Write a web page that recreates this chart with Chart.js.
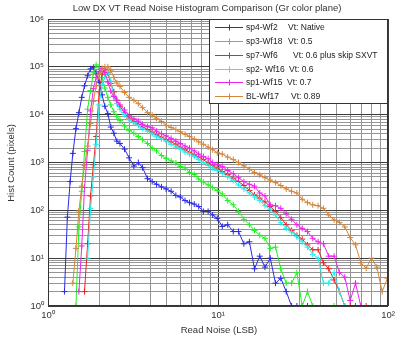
<!DOCTYPE html>
<html>
<head>
<meta charset="utf-8">
<script src="https://cdn.jsdelivr.net/npm/chart.js@4.4.1/dist/chart.umd.min.js"></script>
<style>
html,body{margin:0;padding:0;background:#fff;}
canvas{display:block;}
</style>
</head>
<body>
<canvas id="c" width="400" height="338"></canvas>
<script>
// Read noise bins (LSB)
const readNoise = [1.20,1.25,1.30,1.35,1.40,1.46,1.52,1.58,1.64,1.71,1.78,1.85,1.92,2.00,2.08,2.16,2.25,2.34,2.44,2.54,
  2.65,2.82,3.0,3.2,3.4,3.6,3.85,4.1,4.35,4.65,4.95,5.3,5.65,6.0,6.4,6.8,7.25,7.7,8.2,8.75,9.3,9.9,
  10.6,11.4,12.3,13.2,14.2,15.3,16.4,17.6,18.9,20.3,21.8,23.4,25.2,27.1,29.1,31.3,33.6,36.1,38.8,41.7,
  44.8,48.2,51.8,55.7,59.9,64.4,69.2,74.4,80.0,86.0,92.4,99.3];

const sp4Wf2 = [null,2,72,400,1550,5100,11000,23000,40000,65000,91000,98000,74000,47000,26000,15000,10500,5500,4100,2800,
  2500,1900,1250,840,1000,780,460,400,350,310,280,250,205,190,160,145,135,120,95,95,80,68,
  46,50,36,36,20,22,6,11,6.5,10,3,3.8,2,1,1,1,1,null,null,null,
  null,null,null,null,null,null,null,null,null,null,null,null];

const sp3Wf18 = [null,null,null,null,null,1,45,250,1700,13000,32000,75000,110000,95000,60000,36000,23000,16000,11500,9200,
  7500,5800,4700,4100,3500,3000,2500,2000,1750,1400,1220,1080,980,830,770,620,560,450,390,340,300,260,
  220,160,130,95,65,50,38,30,26,16,17,6,3,3,5,1,2,1,null,null,
  null,1,null,null,null,null,null,null,null,null,null,null];

const sp7Wf6 = [null,null,null,null,null,null,null,null,2,20,200,900,3500,30000,70000,90000,75000,45000,30000,20000,
  15000,11000,8500,7200,6300,5500,4900,4300,3800,3400,3000,2700,2400,2100,1850,1650,1450,1300,1150,980,860,760,
  650,560,470,400,330,260,210,180,150,120,95,70,50,38,30,25,19,15,15,8,
  6,3.5,2,1,1,1,null,1,null,null,null,null];

const sp2Wf16 = [null,null,null,null,null,null,null,null,null,10,110,500,2400,16000,42000,61000,80000,50000,25000,17000,
  13000,10000,7800,6800,6000,5200,4500,4000,3500,3100,2800,2400,2100,1900,1650,1500,1350,1150,1000,870,770,680,
  600,500,420,340,280,230,190,160,125,105,80,55,42,35,28,22,17,12,10,3,
  3,5,2,1,null,null,null,null,null,null,null,null];

const sp1Wf15 = [null,null,null,null,null,null,2,18,300,1800,12000,35000,60000,80000,92000,75000,48000,31000,24000,20000,
  16000,12500,9500,8200,7300,6300,5600,5300,4500,4000,3600,3200,2800,2500,2200,2000,1750,1500,1330,1200,1000,900,
  830,680,580,480,400,350,320,230,200,130,125,110,85,65,50,42,36,26,22,20,
  11,11,5,4,1.3,3,1,null,null,null,null,null];

const blWf17 = [null,null,null,null,3,16,97,320,870,2200,6500,19000,40000,68000,88000,100000,100000,85000,60000,46000,
  39000,29000,23000,20000,17000,14000,11000,9800,8400,7200,6000,5400,4900,4400,3900,3500,3100,2700,2400,2100,1850,1600,
  1500,1300,1150,1000,850,720,620,550,480,430,380,330,280,250,230,170,145,130,125,110,
  80,63,56,45,27,19,8,6.2,10,6.5,2,3.8];

const seriesNames = ['sp4-Wf2','sp3-Wf18','sp7-Wf6','sp2- Wf16','sp1-Wf15','BL-Wf17'];
const seriesVt = ['Vt: Native','Vt: 0.5','Vt: 0.6 plus skip SXVT','Vt: 0.6','Vt: 0.7','Vt: 0.89'];
const seriesValues = [sp4Wf2, sp3Wf18, sp7Wf6, sp2Wf16, sp1Wf15, blWf17];
const seriesColors = ['#2a2ae6','#22f022','#f02222','#22eeee','#f022f0','#d4863a'];

const yTickExps = [0,1,2,3,4,5,6];
const xTickExps = [0,1,2];
const titleText = 'Low DX VT Read Noise Histogram Comparison (Gr color plane)';
const xTitleText = 'Read Noise (LSB)';
const yTitleText = 'Hist Count (pixels)';

const SUP = {'0':'\u2070','1':'\u00B9','2':'\u00B2','3':'\u00B3','4':'\u2074','5':'\u2075','6':'\u2076','7':'\u2077','8':'\u2078','9':'\u2079'};
function decadeExp(v){ const e = Math.log10(v); const r = Math.round(e); return Math.abs(e - r) < 1e-9 ? r : null; }
function decadeLabel(v){ const e = decadeExp(v); return e === null ? '' : '10' + String(e).split('').map(c=>SUP[c]).join(''); }
function buildTicks(exps){ const t=[]; const maxE = exps[exps.length-1];
  for (const e of exps){ for (let m=1;m<=9;m++){ if (e===maxE && m>1) break; t.push({value: m*Math.pow(10,e)}); } } return t; }

const FONT = '"Liberation Sans", Arial, Helvetica, sans-serif';
const MAJOR = '#3c3c3c', MINOR = '#959595';

const datasets = seriesValues.map((vals, i) => ({
  label: seriesNames[i],
  data: readNoise.map((x, k) => ({x: x, y: vals[k]})),
  borderColor: seriesColors[i],
  backgroundColor: seriesColors[i],
  borderWidth: 1,
  pointStyle: 'cross',
  pointRadius: 3,
  pointBorderWidth: 1,
  pointHoverRadius: 3,
  spanGaps: false,
  tension: 0,
  order: 5 - i
}));

const deco = {
  id: 'deco',
  afterDraw(chart){
    const {ctx, chartArea: a} = chart;
    ctx.save();
    ctx.strokeStyle = '#333'; ctx.lineWidth = 1;
    ctx.strokeRect(a.left + 0.5, a.top + 0.5, a.right - a.left - 1, a.bottom - a.top - 1);
    ctx.fillStyle = '#333';
    ctx.font = '9.5px ' + FONT;
    ctx.textAlign = 'center'; ctx.textBaseline = 'middle';
    ctx.fillText(titleText, 207, 8);
    ctx.fillText(xTitleText, 219, 330);
    ctx.save();
    ctx.translate(11, 163); ctx.rotate(-Math.PI/2);
    ctx.fillText(yTitleText, 0, 0);
    ctx.restore();
    // legend
    const bx = 209.5, by = a.top + 0.5, bw = a.right - 0.5 - bx, bh = 84;
    ctx.fillStyle = '#fff'; ctx.fillRect(bx, by, bw, bh);
    ctx.strokeStyle = '#333'; ctx.strokeRect(bx, by, bw, bh);
    const rowY = [27, 41, 55, 68.5, 82, 96];
    const vtX = [288, 288, 293, 289, 287, 291];
    ctx.font = '8.5px ' + FONT; ctx.textAlign = 'left';
    chart.data.datasets.forEach((ds, i) => {
      const y = Math.round(rowY[i]) + 0.5;
      ctx.strokeStyle = ds.borderColor; ctx.lineWidth = 1;
      ctx.beginPath(); ctx.moveTo(215, y); ctx.lineTo(243, y); ctx.stroke();
      ctx.beginPath(); ctx.moveTo(229.5, y - 3); ctx.lineTo(229.5, y + 3);
      ctx.moveTo(226.5, y); ctx.lineTo(232.5, y); ctx.stroke();
      ctx.fillStyle = '#222';
      ctx.fillText(seriesNames[i], 246, y);
      ctx.fillText(seriesVt[i], vtX[i], y);
    });
    ctx.restore();
  }
};

new Chart(document.getElementById('c'), {
  type: 'line',
  data: { datasets },
  options: {
    responsive: false,
    animation: false,
    devicePixelRatio: 1,
    layout: { padding: { top: 19, right: 12, left: 0, bottom: 0 } },
    plugins: { legend: { display: false }, title: { display: false }, tooltip: { enabled: false } },
    scales: {
      x: {
        type: 'logarithmic', min: 1, max: 100,
        afterFit(s){ s.height = 32; },
        afterBuildTicks(s){ s.ticks = buildTicks(xTickExps); },
        ticks: { autoSkip: false, maxRotation: 0, padding: 4, color: '#333', font: { family: FONT, size: 9.5 },
                 callback: (v) => decadeLabel(v) },
        grid: { drawTicks: false, color: (c) => (c.tick && decadeExp(c.tick.value) !== null) ? MAJOR : MINOR, lineWidth: 1 },
        border: { display: false }
      },
      y: {
        type: 'logarithmic', min: 1, max: 1e6,
        afterFit(s){ s.width = 48; },
        afterBuildTicks(s){ s.ticks = buildTicks(yTickExps); },
        ticks: { autoSkip: false, padding: 4, color: '#333', font: { family: FONT, size: 9.5 },
                 callback: (v) => decadeLabel(v) },
        grid: { drawTicks: false, color: (c) => (c.tick && decadeExp(c.tick.value) !== null) ? MAJOR : MINOR, lineWidth: 1 },
        border: { display: false }
      }
    }
  },
  plugins: [deco]
});
</script>
</body>
</html>
